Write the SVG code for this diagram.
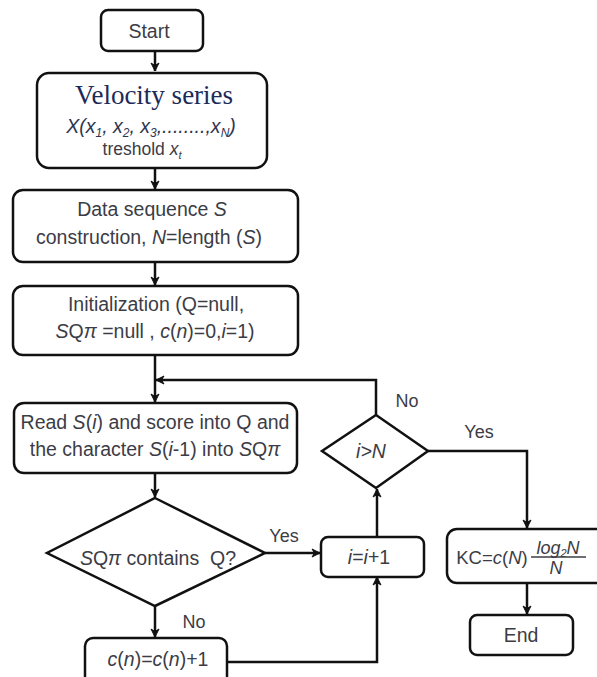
<svg xmlns="http://www.w3.org/2000/svg" width="597" height="677" viewBox="0 0 597 677">
<defs>
<marker id="arr" markerWidth="10" markerHeight="10" viewBox="0 0 10 10" refX="9" refY="5" orient="auto" markerUnits="userSpaceOnUse">
<path d="M1,1 L9,5 L1,9 L3.5,5 Z" fill="#111" stroke="#111" stroke-width="1" stroke-linejoin="round"/>
</marker>
</defs>
<style>
.box{fill:#fff;stroke:#111;stroke-width:2.5}
.ln{fill:none;stroke:#111;stroke-width:2.5}
.t{font-family:"Liberation Sans",Arial,sans-serif;font-size:19.5px;fill:#3c3c46;text-anchor:middle}
.l{font-size:18px}
.i{font-style:italic}
</style>
<rect width="597" height="677" fill="#fff"/>
<g id="connectors">
<path class="ln" d="M155,51 V71" marker-end="url(#arr)"/>
<path class="ln" d="M155,168 V189" marker-end="url(#arr)"/>
<path class="ln" d="M155,262 V285" marker-end="url(#arr)"/>
<path class="ln" d="M155,355 V402" marker-end="url(#arr)"/>
<path class="ln" d="M376,415 V380 H156" marker-end="url(#arr)"/>
<path class="ln" d="M155,473 V497" marker-end="url(#arr)"/>
<path class="ln" d="M155,606 V637" marker-end="url(#arr)"/>
<path class="ln" d="M265,553 H320" marker-end="url(#arr)"/>
<path class="ln" d="M227,662 H377 V577" marker-end="url(#arr)"/>
<path class="ln" d="M377,537 V489" marker-end="url(#arr)"/>
<path class="ln" d="M428,451 H527 V528" marker-end="url(#arr)"/>
<path class="ln" d="M527,583 V614" marker-end="url(#arr)"/>
<text class="t l" x="407" y="407">No</text>
<text class="t l" x="479" y="438">Yes</text>
<text class="t l" x="284" y="542">Yes</text>
<text class="t l" x="194" y="628">No</text>
</g>
<g id="start">
<rect class="box" x="101" y="10" width="102" height="41" rx="7"/>
<text class="t" x="149" y="38">Start</text>
</g>
<g id="velocity">
<rect class="box" x="37" y="73" width="230" height="95" rx="12"/>
<text x="154" y="104" style="font-family:'Liberation Serif','Times New Roman',serif;font-size:27px;fill:#1c2a58;text-anchor:middle">Velocity series</text>
<text class="t i" x="151" y="133" style="fill:#2e3550">X(x<tspan font-size="12" dy="4">1</tspan><tspan dy="-4">, x</tspan><tspan font-size="12" dy="4">2</tspan><tspan dy="-4">, x</tspan><tspan font-size="12" dy="4">3</tspan><tspan dy="-4">,........,x</tspan><tspan font-size="12" dy="4">N</tspan><tspan dy="-4">)</tspan></text>
<text class="t" x="142" y="155" style="font-size:17.5px">treshold <tspan class="i">x</tspan><tspan class="i" font-size="11" dy="4">t</tspan></text>
</g>
<g id="data">
<rect class="box" x="13" y="190" width="285" height="72" rx="10"/>
<text class="t" x="152" y="216">Data sequence <tspan class="i">S</tspan></text>
<text class="t" x="149" y="244">construction, <tspan class="i">N</tspan>=length (<tspan class="i">S</tspan>)</text>
</g>
<g id="init">
<rect class="box" x="13" y="286" width="285" height="69" rx="10"/>
<text class="t" x="156" y="311">Initialization (Q=null,</text>
<text class="t" x="155" y="338"><tspan class="i">S</tspan>Q<tspan class="i">π</tspan> =null , <tspan class="i">c</tspan>(<tspan class="i">n</tspan>)=0,<tspan class="i">i</tspan>=1)</text>
</g>
<g id="read">
<rect class="box" x="14" y="403" width="283" height="70" rx="10"/>
<text class="t" x="155" y="429">Read <tspan class="i">S</tspan>(<tspan class="i">i</tspan>) and score into Q and</text>
<text class="t" x="155" y="456">the character <tspan class="i">S</tspan>(<tspan class="i">i</tspan>-1) into <tspan class="i">S</tspan>Q<tspan class="i">π</tspan></text>
</g>
<g id="contains">
<polygon class="box" points="155,498 265,553 155,606 47,553"/>
<text class="t" x="158" y="565" xml:space="preserve"><tspan class="i">S</tspan>Q<tspan class="i">π</tspan> contains  Q?</text>
</g>
<g id="cn">
<rect class="box" x="85" y="638" width="142" height="50" rx="8"/>
<text class="t" x="158" y="666"><tspan class="i">c</tspan>(<tspan class="i">n</tspan>)=<tspan class="i">c</tspan>(<tspan class="i">n</tspan>)+1</text>
</g>
<g id="inc">
<rect class="box" x="321" y="537" width="103" height="40" rx="7"/>
<text class="t" x="369" y="564"><tspan class="i">i</tspan>=<tspan class="i">i</tspan>+1</text>
</g>
<g id="cmp">
<polygon class="box" points="376,415 428,451 376,488 322,451"/>
<text class="t i" x="371" y="458">i&gt;N</text>
</g>
<g id="kc">
<rect class="box" x="447" y="529" width="160" height="54" rx="10"/>
<text class="t" x="492" y="564" style="font-size:18.5px">KC=<tspan class="i">c</tspan>(<tspan class="i">N</tspan>)</text>
<text class="t i" x="558" y="554" style="font-size:18px">log<tspan font-size="11" dy="3">2</tspan><tspan dy="-3">N</tspan></text>
<line x1="531" y1="557" x2="586" y2="557" stroke="#3c3c46" stroke-width="1.5"/>
<text class="t i" x="556" y="574" style="font-size:18px">N</text>
</g>
<g id="end">
<rect class="box" x="470" y="615" width="103" height="40" rx="7"/>
<text class="t" x="521" y="642">End</text>
</g>
</svg>
